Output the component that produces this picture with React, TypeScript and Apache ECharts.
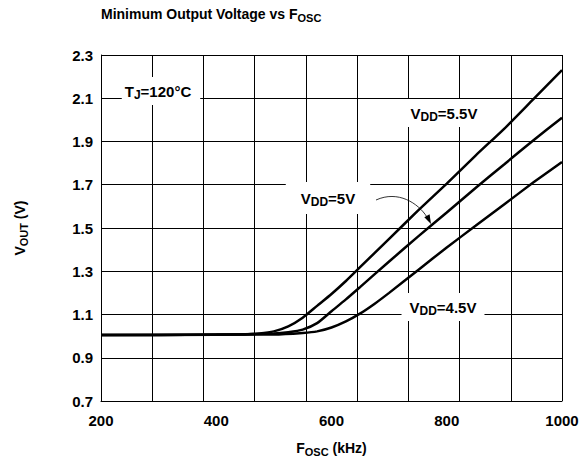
import React, { useEffect, useRef } from "react";
import * as echarts from "echarts";

const FONT = '"Liberation Sans", Arial, Helvetica, sans-serif';

// Axis ticks
const xTickLabels = [200, 400, 600, 800, 1000];
const yTickLabels = [0.7, 0.9, 1.1, 1.3, 1.5, 1.7, 1.9, 2.1, 2.3];
const xGridDivisions = 9;

// VDD = 5.5 V
const fosc55 = [200, 300, 400, 450, 475, 500, 525, 550, 575, 600, 625, 650, 700, 750, 800, 850, 900, 950, 1000];
const vout55 = [1.005, 1.005, 1.007, 1.008, 1.012, 1.022, 1.045, 1.085, 1.14, 1.195, 1.255, 1.32, 1.45, 1.58, 1.705, 1.835, 1.96, 2.095, 2.23];

// VDD = 5 V
const fosc50 = [200, 400, 500, 525, 550, 575, 600, 625, 650, 700, 750, 800, 850, 900, 950, 1000];
const vout50 = [1.005, 1.006, 1.012, 1.018, 1.03, 1.06, 1.115, 1.17, 1.228, 1.345, 1.46, 1.572, 1.685, 1.795, 1.905, 2.01];

// VDD = 4.5 V
const fosc45 = [200, 500, 550, 575, 600, 625, 650, 675, 700, 750, 800, 850, 900, 950, 1000];
const vout45 = [1.005, 1.008, 1.015, 1.022, 1.04, 1.068, 1.105, 1.15, 1.2, 1.305, 1.41, 1.51, 1.61, 1.71, 1.805];

const seriesNames = ["VDD=5.5V", "VDD=5V", "VDD=4.5V"];

const pairs = (xs: number[], ys: number[]) => xs.map((x, i) => [x, ys[i]]);

const richMain = (size: number) => ({
  m: { fontFamily: FONT, fontSize: size, fontWeight: "bold", color: "#000", fill: "#000" },
  s: {
    fontFamily: FONT,
    fontSize: Math.round(size * 0.82),
    fontWeight: "bold",
    color: "#000",
    fill: "#000",
    padding: [Math.round(size * 0.55), 0, 0, 0],
  },
});

const labelBox = (text: string, cx: number, cy: number, padding: number[]) => ({
  type: "text",
  z: 100,
  style: {
    text,
    x: cx,
    y: cy,
    align: "center",
    verticalAlign: "middle",
    rich: richMain(15),
    backgroundColor: "#fff",
    padding,
  },
});

export default function App() {
  const ref = useRef<HTMLDivElement>(null);

  useEffect(() => {
    if (!ref.current) return;
    const chart = echarts.init(ref.current, null, { renderer: "svg" });
    const lineStyle = { color: "#000", width: 2.5 };
    const mkSeries = (name: string, data: number[][]) => ({
      name,
      type: "line",
      data,
      showSymbol: false,
      symbol: "none",
      smooth: 0.2,
      lineStyle,
      xAxisIndex: 0,
      yAxisIndex: 0,
      z: 5,
    });

    chart.setOption({
      animation: false,
      backgroundColor: "#fff",
      title: {
        text: "{m|Minimum Output Voltage vs F}{s|OSC}",
        left: 101,
        top: 4,
        padding: 0,
        textStyle: { rich: richMain(14) },
      },
      grid: { left: 101, right: 20, top: 55, bottom: 62, containLabel: false },
      xAxis: [
        {
          type: "value",
          min: xTickLabels[0],
          max: xTickLabels[xTickLabels.length - 1],
          interval: xTickLabels[1] - xTickLabels[0],
          axisLine: { show: true, lineStyle: { color: "#000", width: 1 } },
          axisTick: { show: false },
          splitLine: { show: false },
          axisLabel: {
            margin: 12,
            fontFamily: FONT,
            fontSize: 15,
            fontWeight: "bold",
            color: "#000",
            formatter: (v: number) => String(v),
          },
          name: "{m|F}{s|OSC}{m| (kHz)}",
          nameLocation: "middle",
          nameGap: 37,
          nameTextStyle: { rich: richMain(14) },
        },
        {
          type: "value",
          position: "bottom",
          min: 0,
          max: xGridDivisions,
          interval: 1,
          axisLine: { show: false },
          axisTick: { show: false },
          axisLabel: { show: false },
          splitLine: { show: true, lineStyle: { color: "#000", width: 1 } },
        },
      ],
      yAxis: {
        type: "value",
        min: yTickLabels[0],
        max: yTickLabels[yTickLabels.length - 1],
        interval: yTickLabels[1] - yTickLabels[0],
        axisLine: { show: true, lineStyle: { color: "#000", width: 1 } },
        axisTick: { show: false },
        splitLine: { show: true, lineStyle: { color: "#000", width: 1 } },
        axisLabel: {
          margin: 8,
          fontFamily: FONT,
          fontSize: 15,
          fontWeight: "bold",
          color: "#000",
          formatter: (v: number) => v.toFixed(1),
        },
        name: "{m|V}{s|OUT}{m| (V)}",
        nameLocation: "middle",
        nameGap: 72,
        nameTextStyle: { rich: richMain(14) },
      },
      series: [
        mkSeries(seriesNames[0], pairs(fosc55, vout55)),
        mkSeries(seriesNames[1], pairs(fosc50, vout50)),
        mkSeries(seriesNames[2], pairs(fosc45, vout45)),
      ],
      graphic: [
        labelBox("{m|T}{s|J}{m|=120°C}", 161, 91, [4, 9, 4, 3]),
        labelBox("{m|V}{s|DD}{m|=5.5V}", 444, 113, [4, 8, 4, 8]),
        labelBox("{m|V}{s|DD}{m|=5V}", 328, 198, [6, 15, 6, 15]),
        labelBox("{m|V}{s|DD}{m|=4.5V}", 443, 307, [4, 8, 4, 8]),
        {
          type: "bezierCurve",
          z: 101,
          shape: { x1: 376, y1: 200, cpx1: 398, cpy1: 190, cpx2: 418, cpy2: 203, x2: 427, y2: 217 },
          style: { stroke: "#000", lineWidth: 0.8, fill: null },
        },
        {
          type: "polygon",
          z: 101,
          shape: { points: [[431, 224], [424.3, 217.3], [429.6, 214.2]] },
          style: { fill: "#000" },
        },
      ],
    });
    return () => chart.dispose();
  }, []);

  return (
    <div
      ref={ref}
      style={{ position: "fixed", left: 0, top: 0, width: 582, height: 463, background: "#fff" }}
    />
  );
}
